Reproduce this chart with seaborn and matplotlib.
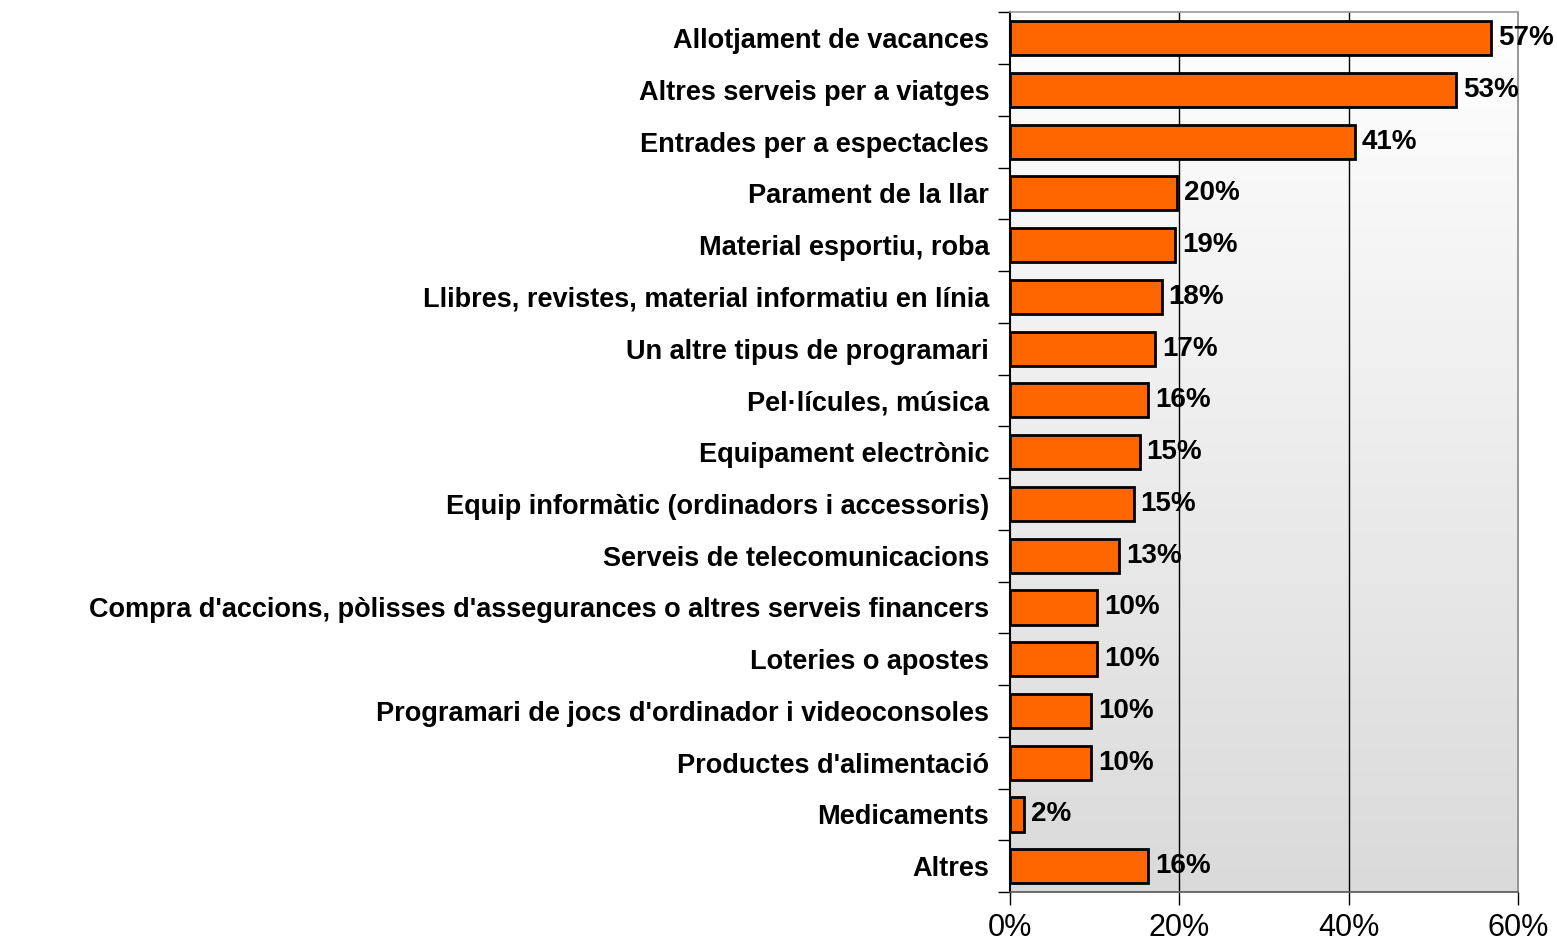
import numpy as np
import pandas as pd
import matplotlib
matplotlib.use("Agg")
import matplotlib.pyplot as plt
import seaborn as sns
from matplotlib.colors import LinearSegmentedColormap
from matplotlib.ticker import FixedLocator, PercentFormatter

# data
categories = [
    "Allotjament de vacances",
    "Altres serveis per a viatges",
    "Entrades per a espectacles",
    "Parament de la llar",
    "Material esportiu, roba",
    "Llibres, revistes, material informatiu en línia",
    "Un altre tipus de programari",
    "Pel·lícules, música",
    "Equipament electrònic",
    "Equip informàtic (ordinadors i accessoris)",
    "Serveis de telecomunicacions",
    "Compra d'accions, pòlisses d'assegurances o altres serveis financers",
    "Loteries o apostes",
    "Programari de jocs d'ordinador i videoconsoles",
    "Productes d'alimentació",
    "Medicaments",
    "Altres",
]
values = [56.8, 52.7, 40.7, 19.7, 19.5, 17.9, 17.1, 16.3, 15.3, 14.6,
          12.9, 10.3, 10.3, 9.6, 9.6, 1.7, 16.3]
shown = [57, 53, 41, 20, 19, 18, 17, 16, 15, 15, 13, 10, 10, 10, 10, 2, 16]

df = pd.DataFrame({"cat": categories, "val": values})

sns.set_theme(style="white")
plt.rcParams["font.family"] = ["Liberation Sans", "DejaVu Sans"]
plt.rcParams["text.color"] = "black"
plt.rcParams["xtick.color"] = "black"
plt.rcParams["ytick.color"] = "black"

fig = plt.figure(figsize=(15.57, 9.43), dpi=100)
ax = fig.add_axes([0.6487, 0.054, 0.3263, 0.933])

# background gradient white -> light grey
cmap = LinearSegmentedColormap.from_list("bg", ["#ffffff", "#dadada"])
ax.imshow(np.linspace(0, 1, 256).reshape(-1, 1), cmap=cmap, aspect="auto",
          extent=[0, 60, len(categories) - 0.5, -0.5], zorder=0)

for x in [20, 40]:
    ax.axvline(x, color="black", lw=1, zorder=1)

sns.barplot(data=df, x="val", y="cat", orient="h", color="#FF6600",
            saturation=1, width=0.66, edgecolor="black", linewidth=2,
            ax=ax, zorder=2)

ax.bar_label(ax.containers[0], labels=[f"{s}%" for s in shown], padding=5,
             fontsize=20, fontweight="bold", color="black")

ax.set_xlim(0, 60)
ax.set_ylim(len(categories) - 0.5, -0.5)
ax.set_xticks([0, 20, 40, 60])
ax.xaxis.set_major_formatter(PercentFormatter(decimals=0))
ax.tick_params(axis="x", direction="out", length=9, width=1, color="black",
               labelcolor="black", labelsize=22, pad=6, bottom=True)
ax.tick_params(axis="y", which="major", length=0, labelsize=19.5, pad=15,
               labelcolor="black")
for t in ax.get_yticklabels():
    t.set_fontweight("bold")
ax.yaxis.set_minor_locator(FixedLocator(np.arange(-0.5, len(categories), 1)))
ax.tick_params(axis="y", which="minor", direction="out", length=9, width=1,
               color="black", left=True)
ax.set_xlabel("")
ax.set_ylabel("")

ax.spines["left"].set_color("black")
ax.spines["left"].set_linewidth(1.5)
ax.spines["bottom"].set_color("#555555")
ax.spines["top"].set_color("#999999")
ax.spines["right"].set_color("#888888")
for s in ["bottom", "top", "right"]:
    ax.spines[s].set_linewidth(1.2)

fig.savefig("out.png", dpi=100)
